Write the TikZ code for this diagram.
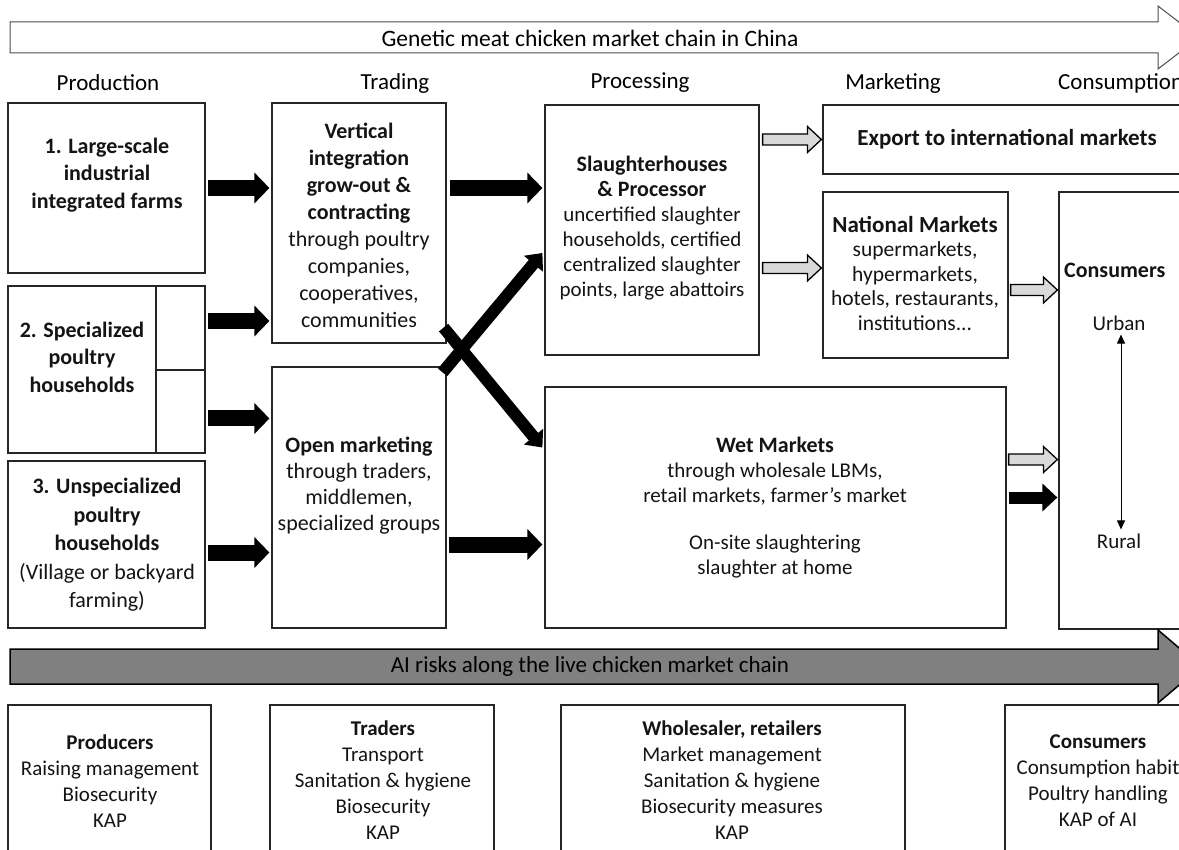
\documentclass[tikz,border=0pt]{standalone}
\usepackage{fontspec}
\setmainfont{Carlito}
\usetikzlibrary{calc,arrows.meta,fit}
\definecolor{lgray}{HTML}{D9D9D9}
\definecolor{mgray}{HTML}{808080}
\newcommand{\garr}[2]{%
  \draw[garrow] let \p1=#1, \p2=#2 in
    ({\x1},{\y1+5.5pt}) -- ({\x2-14pt},{\y1+5.5pt}) -- ({\x2-14pt},{\y1+13pt}) --
    ({\x2},{\y1}) -- ({\x2-14pt},{\y1-13pt}) -- ({\x2-14pt},{\y1-5.5pt}) --
    ({\x1},{\y1-5.5pt}) -- cycle;}
\begin{document}
\begin{tikzpicture}[x=1pt,y=-1pt,
  box/.style={draw=black!85,line width=1.2pt,inner sep=0pt},
  txt/.style={align=center,inner sep=0pt,text=black!92},
  hdr/.style={inner sep=0pt,font=\fontsize{23}{27}\selectfont},
  fa/.style={font=\fontsize{22}{27.5}\selectfont},
  fb/.style={font=\fontsize{21}{25}\selectfont},
  fc/.style={font=\fontsize{21}{26}\selectfont},
  blk/.style={line width=16pt,-{Triangle[length=15pt,width=30pt]}},
  blk2/.style={line width=12pt,-{Triangle[length=15pt,width=27pt]}},
  diag/.style={line width=12pt,-{Triangle[length=14pt,width=24pt]}},
  garrow/.style={draw=black,line width=1.3pt,fill=lgray,line join=miter},
  rl/.style={line width=0.9pt,{Triangle[length=9pt,width=8pt]}-{Triangle[length=9pt,width=8pt]}}
]
\useasboundingbox (0,0) rectangle (1179,850);
\clip (0,0) rectangle (1179,850);

% top banner arrow
\draw[line width=1pt,draw=black!70,fill=white]
  (10,22) -- (1158,22) -- (1158,6) -- (1199,37.5) -- (1158,69) -- (1158,53) -- (10,53) -- cycle;
\node[hdr,font=\fontsize{23.5}{27}\selectfont] (title) at (590,38) {Genetic meat chicken market chain in China};

% headers
\node[hdr] (hprod) at (108,83) {Production};
\node[hdr] (htrad) at (395,83) {Trading};
\node[hdr] (hproc) at (640,83) {Processing};
\node[hdr] (hmark) at (893,83) {Marketing};
\node[hdr,anchor=west] (hcons) at (1058,83) {Consumption};

% boxes
\node[box,fit={(8,103) (205,273)}] (b1) {};
\node[box,fit={(8,286) (205,453)}] (b2) {};
\node[box,fit={(156,286) (205,370)}] (b2a) {};
\node[box,fit={(156,370) (205,453)}] (b2b) {};
\node[box,fit={(8,461) (205,628)}] (b3) {};
\node[box,fit={(272,103) (446,343)}] (vt) {};
\node[box,fit={(272,367) (446,628)}] (op) {};
\node[box,fit={(545,105) (759,355)}] (sl) {};
\node[box,fit={(823,105) (1200,174)}] (ex) {};
\node[box,fit={(823,192) (1008,358)}] (nm) {};
\node[box,fit={(545,387) (1006,628)}] (wt) {};
\node[box,fit={(1059,192) (1200,629)}] (cn) {};
\node[box,fit={(8,705) (211,870)}] (pr) {};
\node[box,fit={(270,705) (494,870)}] (tr) {};
\node[box,fit={(561,705) (905,870)}] (ws) {};
\node[box,fit={(1005,705) (1200,870)}] (cb) {};

% texts in boxes
\node[txt,fa] (t1) at (107,175) {\textbf{1. Large-scale}\\\textbf{industrial}\\\textbf{integrated farms}};
\node[txt,fa] (t2) at (82,357) {\textbf{2. Specialized}\\\textbf{poultry}\\\textbf{households}};
\node[txt,fa,font=\fontsize{22}{28.5}\selectfont] (t3) at (107,545) {\textbf{3. Unspecialized}\\\textbf{poultry}\\\textbf{households}\\(Village or backyard\\farming)};
\node[txt,fa,font=\fontsize{22}{27}\selectfont] (tvt) at (359,225) {\textbf{Vertical}\\\textbf{integration}\\\textbf{grow-out \&}\\\textbf{contracting}\\through poultry\\companies,\\cooperatives,\\communities};
\node[txt,fa,font=\fontsize{22}{26}\selectfont] (top) at (359,486) {\textbf{Open marketing}\\through traders,\\middlemen,\\specialized groups};
\node[txt,fb] (tsl) at (652,228) {\textbf{\fontsize{22}{25}\selectfont Slaughterhouses}\\\textbf{\fontsize{22}{25}\selectfont \& Processor}\\uncertified slaughter\\households, certified\\centralized slaughter\\points, large abattoirs};
\node[txt,font=\fontsize{23}{27}\selectfont\bfseries] (tex) at (1007,139) {Export to international markets};
\node[txt,fb,font=\fontsize{21.5}{24.5}\selectfont] (tnm) at (915,273) {\textbf{\fontsize{23}{25}\selectfont National Markets}\\supermarkets,\\hypermarkets,\\hotels, restaurants,\\institutions...};
\node[txt,fb] (twt) at (775,508) {\textbf{\fontsize{22}{25}\selectfont Wet Markets}\\through wholesale LBMs,\\retail markets, farmer’s market\\[22pt]On-site slaughtering\\slaughter at home};
\node[txt,anchor=west,font=\fontsize{22}{26}\selectfont\bfseries] (tcn) at (1064,270) {Consumers};
\node[txt,fc] (urban) at (1119,323) {Urban};
\node[txt,fc] (rural) at (1119,541) {Rural};
\draw[rl] ($(urban.south)+(2,4)$) -- ($(rural.north)+(2,-4)$);

% bottom texts
\node[txt,fc] (tpr) at (110,781) {\textbf{Producers}\\Raising management\\Biosecurity\\KAP};
\node[txt,fc] (ttr) at (383,780) {\textbf{Traders}\\Transport\\Sanitation \& hygiene\\Biosecurity\\KAP};
\node[txt,fc] (tws) at (732,780) {\textbf{Wholesaler, retailers}\\Market management\\Sanitation \& hygiene\\Biosecurity measures\\KAP};
\node[txt,fc] (tcb) at (1098,781) {\textbf{Consumers}\\Consumption habit\\Poultry handling\\KAP of AI};

% AI risks banner arrow
\draw[line width=1.5pt,draw=black,fill=mgray]
  (10,649) -- (1158,649) -- (1158,630) -- (1201,666.5) -- (1158,703) -- (1158,684) -- (10,684) -- cycle;
\node[hdr] (ai) at (590,666) {AI risks along the live chicken market chain};

% black flow arrows
\draw[blk] ($(b1.east)+(2,0)$) -- ($(vt.west |- b1.east)+(-2,0)$);
\draw[blk] ($(vt.east |- b1.east)+(3,0)$) -- ($(sl.west |- b1.east)+(-2,0)$);
\draw[blk] ($(b2a.east)+(2,-7)$) -- ($(vt.west |- b2a.east)+(-2,-7)$);
\draw[blk] ($(b2b.east)+(2,7)$) -- ($(op.west |- b2b.east)+(-2,7)$);
\draw[blk] ($(b3.east)+(2,8)$) -- ($(op.west |- b3.east)+(-2,8)$);
\draw[blk] ($(op.east)+(2,47)$) -- ($(wt.west |- op.east)+(-2,47)$);
\draw[diag] ($(vt.south east)+(-3,-16)$) -- ($(wt.west)+(-2,-60)$);
\draw[diag] ($(op.north east)+(-4,6)$) -- ($(sl.west)+(-2,23)$);

% gray outlined arrows
\garr{($(sl.east |- ex.west)+(3,0)$)}{($(ex.west)+(-1,0)$)}
\garr{($(sl.east)+(3,38)$)}{($(nm.west |- sl.east)+(-1,38)$)}
\garr{($(nm.east)+(2,15)$)}{($(cn.west |- nm.east)+(-1,15)$)}
\garr{($(wt.east)+(2,-48)$)}{($(cn.west |- wt.east)+(-1,-48)$)}
\draw[blk2] ($(wt.east)+(2,-10)$) -- ($(cn.west |- wt.east)+(-1,-10)$);
\end{tikzpicture}
\end{document}
